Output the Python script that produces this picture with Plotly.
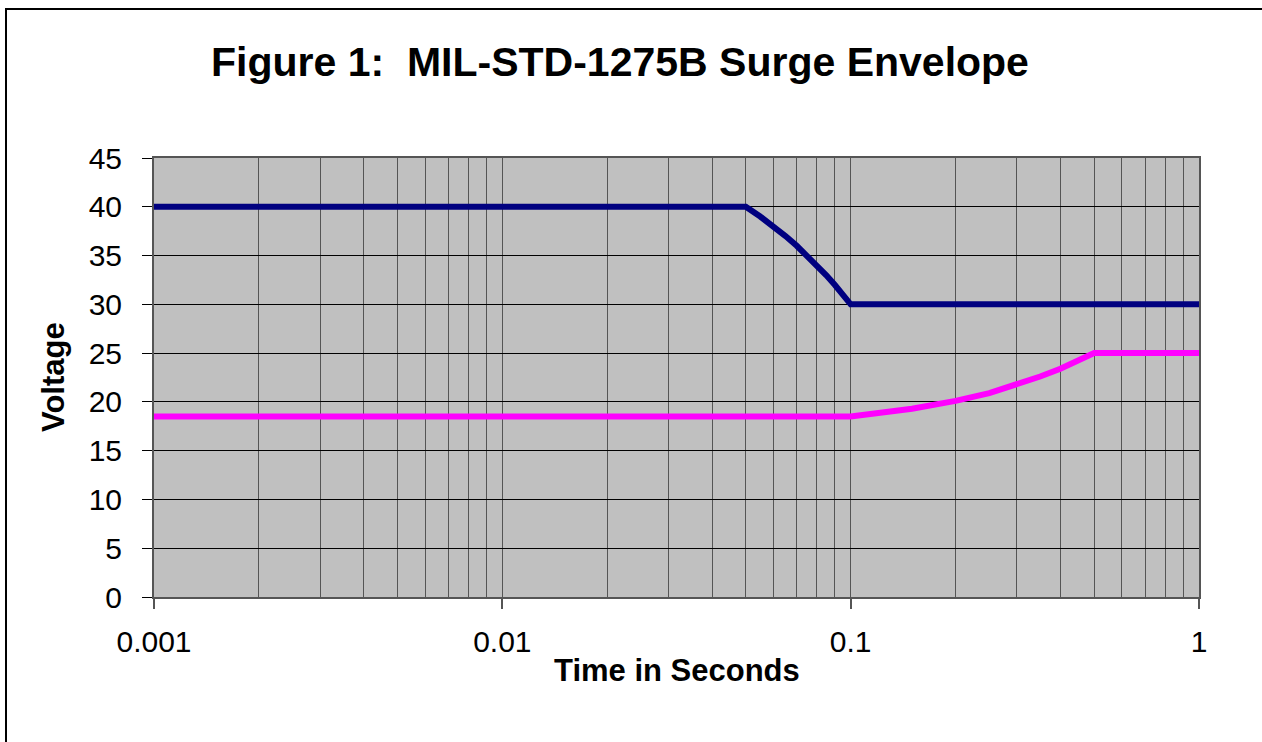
import plotly.graph_objects as go

# Upper envelope (navy)
upper_t = [0.001, 0.05, 0.055, 0.06, 0.065, 0.07, 0.075, 0.08, 0.085, 0.09, 0.095, 0.1, 1.0]
upper_v = [40, 40, 39, 38, 37, 36, 35, 34, 33, 32, 31, 30, 30]

# Lower envelope (magenta)
lower_t = [0.001, 0.1, 0.15, 0.2, 0.25, 0.3, 0.35, 0.4, 0.45, 0.5, 1.0]
lower_v = [18.5, 18.5, 19.3, 20.1, 20.9, 21.8, 22.6, 23.4, 24.2, 25, 25]

x_ticks = [0.001, 0.01, 0.1, 1]
x_tick_labels = ["0.001", "0.01", "0.1", "1"]
y_ticks = [0, 5, 10, 15, 20, 25, 30, 35, 40, 45]

minor_vals = [m * d for d in (0.001, 0.01, 0.1) for m in range(2, 10)]

W, H = 1262, 742
L, R, T, B = 154, 1199, 158, 597
pw, ph = R - L, B - T

def px(x):
    return (x - L) / pw

def py(y):
    return (B - y) / ph

fig = go.Figure()
fig.add_trace(go.Scatter(x=upper_t, y=upper_v, mode="lines",
                         line=dict(color="#000080", width=6), showlegend=False))
fig.add_trace(go.Scatter(x=lower_t, y=lower_v, mode="lines",
                         line=dict(color="#FF00FF", width=6), showlegend=False))

fig.update_layout(
    width=W, height=H,
    margin=dict(l=L, r=W - R, t=T, b=H - B, autoexpand=False),
    paper_bgcolor="white",
    plot_bgcolor="#C0C0C0",
    font=dict(family="Liberation Sans, Arial, sans-serif", color="black"),
    title=dict(text="<b>Figure 1:\u00a0 MIL-STD-1275B Surge Envelope</b>",
               x=620 / W, xanchor="center", xref="container",
               y=1 - 62 / H, yanchor="middle", yref="container",
               font=dict(size=41, color="black")),
    xaxis=dict(type="log", range=[-3, 0], tickvals=x_ticks, ticktext=x_tick_labels,
               ticks="outside", ticklen=10, tickcolor="#555555", tickwidth=1.5,
               tickfont=dict(size=30), ticklabelstandoff=7,
               showgrid=True, gridcolor="#555555", gridwidth=1.3,
               minor=dict(tickvals=minor_vals, showgrid=True, gridcolor="#555555",
                          gridwidth=1.3, ticks=""),
               showline=True, linecolor="#555555", linewidth=2, mirror=True,
               zeroline=False, automargin=False),
    yaxis=dict(range=[0, 45], tickvals=y_ticks, ticks="outside", ticklen=10,
               tickcolor="black", tickwidth=1.3, tickfont=dict(size=30),
               ticklabelstandoff=14,
               showgrid=True, gridcolor="black", gridwidth=1.3,
               showline=True, linecolor="#555555", linewidth=2, mirror=True,
               zeroline=False, automargin=False),
    annotations=[
        dict(text="<b>Time in Seconds</b>", x=0.5, y=py(670), xref="paper", yref="paper",
             xanchor="center", yanchor="middle", showarrow=False,
             font=dict(size=31, color="black")),
        dict(text="<b>Voltage</b>", x=px(53), y=py(377), xref="paper", yref="paper",
             xanchor="center", yanchor="middle", showarrow=False, textangle=-90,
             font=dict(size=31, color="black")),
    ],
    shapes=[
        dict(type="rect", xref="paper", yref="paper",
             x0=px(6), x1=px(1275), y0=py(9), y1=py(755),
             line=dict(color="black", width=2), fillcolor="rgba(0,0,0,0)", layer="above"),
    ],
)

fig.write_html(
    "out.html",
    config={"displayModeBar": False},
    post_script="document.body.style.margin='0';document.body.style.overflow='hidden';",
)
